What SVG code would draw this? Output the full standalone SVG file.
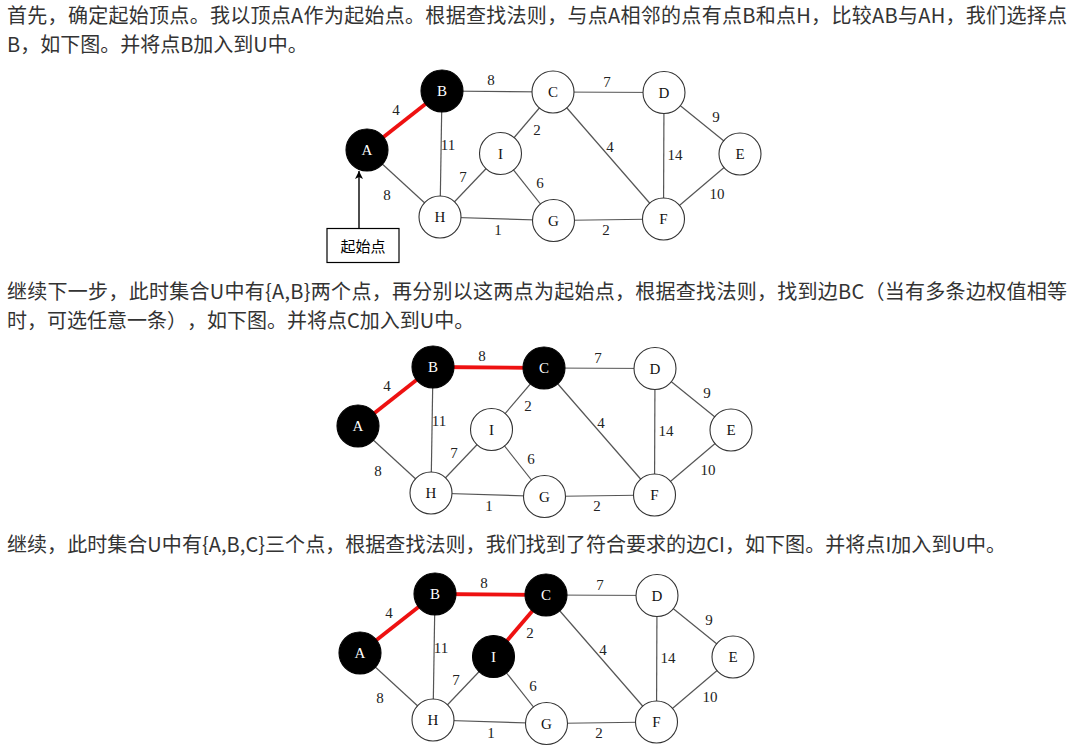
<svg xmlns="http://www.w3.org/2000/svg" width="1084" height="751" viewBox="0 0 1084 751">
<style>
.p{font-family:"Noto Sans CJK SC","Noto Sans",sans-serif;font-size:20px;fill:#333}
.e{stroke:#555;stroke-width:1.2;fill:none}
.r{stroke:#ee1111;stroke-width:3.8;fill:none}
.n circle{fill:#fff;stroke:#333;stroke-width:1.1}
.n text{font-family:"Liberation Serif",serif;font-size:15px;fill:#111;text-anchor:middle}
.k circle{fill:#000;stroke:#000}
.k text{fill:#fff}
.w{font-family:"Liberation Serif",serif;font-size:15px;fill:#222;text-anchor:middle}
</style>
<defs>
<marker id="ah" viewBox="0 0 8 10" refX="8" refY="5" markerWidth="8" markerHeight="10" markerUnits="userSpaceOnUse" orient="auto">
<path d="M0,1 L8,5 L0,9 L2,5 Z" fill="#000"/>
</marker>
</defs>

<text class="p" x="7" y="23" textLength="1060" lengthAdjust="spacing">首先，确定起始顶点。我以顶点A作为起始点。根据查找法则，与点A相邻的点有点B和点H，比较AB与AH，我们选择点</text>
<text class="p" x="7" y="52">B，如下图。并将点B加入到U中。</text>
<text class="p" x="7" y="299" textLength="1060" lengthAdjust="spacing">继续下一步，此时集合U中有{A,B}两个点，再分别以这两点为起始点，根据查找法则，找到边BC（当有多条边权值相等</text>
<text class="p" x="7" y="328">时，可选任意一条）<tspan x="187">，如下图。并将点C加入到U中。</tspan></text>
<text class="p" x="7" y="552" textLength="999" lengthAdjust="spacing">继续，此时集合U中有{A,B,C}三个点，根据查找法则，我们找到了符合要求的边CI，如下图。并将点I加入到U中。</text>

<!-- Graph 1 -->
<g id="graph1">
<g id="g1-connectors">
<line class="r" x1="367" y1="150" x2="442" y2="91"/>
<line class="e" x1="367" y1="150" x2="440" y2="217"/>
<line class="e" x1="442" y1="91" x2="553" y2="92"/>
<line class="e" x1="442" y1="91" x2="440" y2="217"/>
<line class="e" x1="553" y1="92" x2="664" y2="92.5"/>
<line class="e" x1="553" y1="92" x2="500.5" y2="153.5"/>
<line class="e" x1="553" y1="92" x2="663.5" y2="219"/>
<line class="e" x1="664" y1="92.5" x2="740" y2="154"/>
<line class="e" x1="664" y1="92.5" x2="663.5" y2="219"/>
<line class="e" x1="740" y1="154" x2="663.5" y2="219"/>
<line class="e" x1="440" y1="217" x2="500.5" y2="153.5"/>
<line class="e" x1="500.5" y1="153.5" x2="553.5" y2="220.5"/>
<line class="e" x1="440" y1="217" x2="553.5" y2="220.5"/>
<line class="e" x1="553.5" y1="220.5" x2="663.5" y2="219"/>
<line x1="359" y1="228" x2="359" y2="171" stroke="#000" stroke-width="1.4" marker-end="url(#ah)"/>
<text class="w" x="396" y="115">4</text>
<text class="w" x="491" y="85">8</text>
<text class="w" x="607" y="87">7</text>
<text class="w" x="448" y="150">11</text>
<text class="w" x="537" y="135">2</text>
<text class="w" x="610" y="152">4</text>
<text class="w" x="675" y="160">14</text>
<text class="w" x="716" y="122">9</text>
<text class="w" x="463" y="182">7</text>
<text class="w" x="540" y="188">6</text>
<text class="w" x="387" y="200">8</text>
<text class="w" x="717" y="199">10</text>
<text class="w" x="498" y="235">1</text>
<text class="w" x="606" y="235">2</text>
</g>
<g id="g1-A" class="n k"><circle cx="367" cy="150" r="21"/><text x="367" y="155">A</text></g>
<g id="g1-B" class="n k"><circle cx="442" cy="91" r="21"/><text x="442" y="96">B</text></g>
<g id="g1-C" class="n"><circle cx="553" cy="92" r="21"/><text x="553" y="97">C</text></g>
<g id="g1-D" class="n"><circle cx="664" cy="92.5" r="21"/><text x="664" y="97.5">D</text></g>
<g id="g1-E" class="n"><circle cx="740" cy="154" r="21"/><text x="740" y="159">E</text></g>
<g id="g1-I" class="n"><circle cx="500.5" cy="153.5" r="21"/><text x="500.5" y="158.5">I</text></g>
<g id="g1-H" class="n"><circle cx="440" cy="217" r="21"/><text x="440" y="222">H</text></g>
<g id="g1-G" class="n"><circle cx="553.5" cy="220.5" r="21"/><text x="553.5" y="225.5">G</text></g>
<g id="g1-F" class="n"><circle cx="663.5" cy="219" r="21"/><text x="663.5" y="224">F</text></g>
<g id="g1-start">
<rect x="327" y="228.5" width="72" height="34" fill="#fff" stroke="#000" stroke-width="1.2"/>
<text x="363" y="251.5" font-family="Noto Sans CJK SC,sans-serif" font-size="15" fill="#000" text-anchor="middle">起始点</text>
</g>
</g>

<!-- Graph 2 -->
<g id="graph2" transform="translate(-9,276)">
<g id="g2-connectors">
<line class="r" x1="367" y1="150" x2="442" y2="91"/>
<line class="e" x1="367" y1="150" x2="440" y2="217"/>
<line class="r" x1="442" y1="91" x2="553" y2="92"/>
<line class="e" x1="442" y1="91" x2="440" y2="217"/>
<line class="e" x1="553" y1="92" x2="664" y2="92.5"/>
<line class="e" x1="553" y1="92" x2="500.5" y2="153.5"/>
<line class="e" x1="553" y1="92" x2="663.5" y2="219"/>
<line class="e" x1="664" y1="92.5" x2="740" y2="154"/>
<line class="e" x1="664" y1="92.5" x2="663.5" y2="219"/>
<line class="e" x1="740" y1="154" x2="663.5" y2="219"/>
<line class="e" x1="440" y1="217" x2="500.5" y2="153.5"/>
<line class="e" x1="500.5" y1="153.5" x2="553.5" y2="220.5"/>
<line class="e" x1="440" y1="217" x2="553.5" y2="220.5"/>
<line class="e" x1="553.5" y1="220.5" x2="663.5" y2="219"/>
<text class="w" x="396" y="115">4</text>
<text class="w" x="491" y="85">8</text>
<text class="w" x="607" y="87">7</text>
<text class="w" x="448" y="150">11</text>
<text class="w" x="537" y="135">2</text>
<text class="w" x="610" y="152">4</text>
<text class="w" x="675" y="160">14</text>
<text class="w" x="716" y="122">9</text>
<text class="w" x="463" y="182">7</text>
<text class="w" x="540" y="188">6</text>
<text class="w" x="387" y="200">8</text>
<text class="w" x="717" y="199">10</text>
<text class="w" x="498" y="235">1</text>
<text class="w" x="606" y="235">2</text>
</g>
<g id="g2-A" class="n k"><circle cx="367" cy="150" r="21"/><text x="367" y="155">A</text></g>
<g id="g2-B" class="n k"><circle cx="442" cy="91" r="21"/><text x="442" y="96">B</text></g>
<g id="g2-C" class="n k"><circle cx="553" cy="92" r="21"/><text x="553" y="97">C</text></g>
<g id="g2-D" class="n"><circle cx="664" cy="92.5" r="21"/><text x="664" y="97.5">D</text></g>
<g id="g2-E" class="n"><circle cx="740" cy="154" r="21"/><text x="740" y="159">E</text></g>
<g id="g2-I" class="n"><circle cx="500.5" cy="153.5" r="21"/><text x="500.5" y="158.5">I</text></g>
<g id="g2-H" class="n"><circle cx="440" cy="217" r="21"/><text x="440" y="222">H</text></g>
<g id="g2-G" class="n"><circle cx="553.5" cy="220.5" r="21"/><text x="553.5" y="225.5">G</text></g>
<g id="g2-F" class="n"><circle cx="663.5" cy="219" r="21"/><text x="663.5" y="224">F</text></g>
</g>

<!-- Graph 3 -->
<g id="graph3" transform="translate(-7,503)">
<g id="g3-connectors">
<line class="r" x1="367" y1="150" x2="442" y2="91"/>
<line class="e" x1="367" y1="150" x2="440" y2="217"/>
<line class="r" x1="442" y1="91" x2="553" y2="92"/>
<line class="e" x1="442" y1="91" x2="440" y2="217"/>
<line class="e" x1="553" y1="92" x2="664" y2="92.5"/>
<line class="r" x1="553" y1="92" x2="500.5" y2="153.5"/>
<line class="e" x1="553" y1="92" x2="663.5" y2="219"/>
<line class="e" x1="664" y1="92.5" x2="740" y2="154"/>
<line class="e" x1="664" y1="92.5" x2="663.5" y2="219"/>
<line class="e" x1="740" y1="154" x2="663.5" y2="219"/>
<line class="e" x1="440" y1="217" x2="500.5" y2="153.5"/>
<line class="e" x1="500.5" y1="153.5" x2="553.5" y2="220.5"/>
<line class="e" x1="440" y1="217" x2="553.5" y2="220.5"/>
<line class="e" x1="553.5" y1="220.5" x2="663.5" y2="219"/>
<text class="w" x="396" y="115">4</text>
<text class="w" x="491" y="85">8</text>
<text class="w" x="607" y="87">7</text>
<text class="w" x="448" y="150">11</text>
<text class="w" x="537" y="135">2</text>
<text class="w" x="610" y="152">4</text>
<text class="w" x="675" y="160">14</text>
<text class="w" x="716" y="122">9</text>
<text class="w" x="463" y="182">7</text>
<text class="w" x="540" y="188">6</text>
<text class="w" x="387" y="200">8</text>
<text class="w" x="717" y="199">10</text>
<text class="w" x="498" y="235">1</text>
<text class="w" x="606" y="235">2</text>
</g>
<g id="g3-A" class="n k"><circle cx="367" cy="150" r="21"/><text x="367" y="155">A</text></g>
<g id="g3-B" class="n k"><circle cx="442" cy="91" r="21"/><text x="442" y="96">B</text></g>
<g id="g3-C" class="n k"><circle cx="553" cy="92" r="21"/><text x="553" y="97">C</text></g>
<g id="g3-D" class="n"><circle cx="664" cy="92.5" r="21"/><text x="664" y="97.5">D</text></g>
<g id="g3-E" class="n"><circle cx="740" cy="154" r="21"/><text x="740" y="159">E</text></g>
<g id="g3-I" class="n k"><circle cx="500.5" cy="153.5" r="21"/><text x="500.5" y="158.5">I</text></g>
<g id="g3-H" class="n"><circle cx="440" cy="217" r="21"/><text x="440" y="222">H</text></g>
<g id="g3-G" class="n"><circle cx="553.5" cy="220.5" r="21"/><text x="553.5" y="225.5">G</text></g>
<g id="g3-F" class="n"><circle cx="663.5" cy="219" r="21"/><text x="663.5" y="224">F</text></g>
</g>
</svg>
